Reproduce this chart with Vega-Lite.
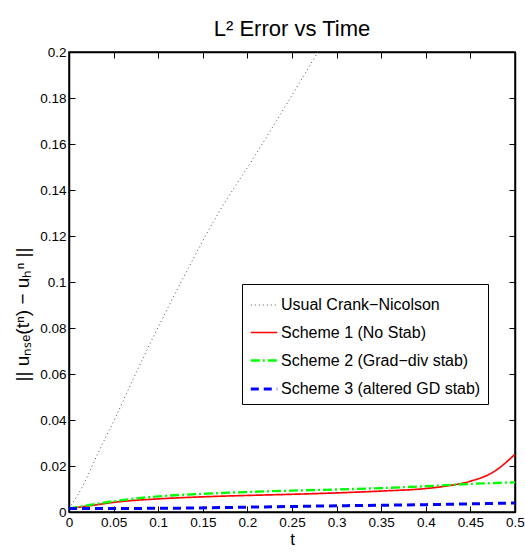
{
  "$schema": "https://vega.github.io/schema/vega-lite/v6.json",
  "autosize": {"type": "none"},
  "width": 446,
  "height": 460,
  "padding": {"left": 69, "top": 52, "right": 10, "bottom": 41},
  "background": "white",
  "title": {
    "text": "L² Error vs Time",
    "font": "Liberation Sans, Arial, sans-serif",
    "fontSize": 22,
    "fontWeight": "normal",
    "color": "black",
    "offset": 4
  },
  "config": {
    "view": {"stroke": "black", "strokeWidth": 1.5},
    "axis": {
      "labelFont": "Liberation Sans, Arial, sans-serif",
      "titleFont": "Liberation Sans, Arial, sans-serif",
      "labelFontSize": 13.5,
      "titleFontSize": 17,
      "titleFontWeight": "normal",
      "labelColor": "black",
      "titleColor": "black",
      "domainColor": "black",
      "domainWidth": 1.5,
      "tickColor": "black",
      "tickSize": -6,
      "labelPadding": 9,
      "grid": false
    }
  },
  "data": {
    "values": [
      {"series": "Usual Crank−Nicolson", "t": 0, "e": 0.0015},
      {"series": "Usual Crank−Nicolson", "t": 0.015, "e": 0.011},
      {"series": "Usual Crank−Nicolson", "t": 0.033, "e": 0.026},
      {"series": "Usual Crank−Nicolson", "t": 0.052, "e": 0.041},
      {"series": "Usual Crank−Nicolson", "t": 0.071, "e": 0.057},
      {"series": "Usual Crank−Nicolson", "t": 0.094, "e": 0.0757},
      {"series": "Usual Crank−Nicolson", "t": 0.128, "e": 0.1017},
      {"series": "Usual Crank−Nicolson", "t": 0.166, "e": 0.129},
      {"series": "Usual Crank−Nicolson", "t": 0.207, "e": 0.154},
      {"series": "Usual Crank−Nicolson", "t": 0.245, "e": 0.178},
      {"series": "Usual Crank−Nicolson", "t": 0.279, "e": 0.2},

      {"series": "Scheme 1 (No Stab)", "t": 0, "e": 0.0015},
      {"series": "Scheme 1 (No Stab)", "t": 0.025, "e": 0.0028},
      {"series": "Scheme 1 (No Stab)", "t": 0.05, "e": 0.0042},
      {"series": "Scheme 1 (No Stab)", "t": 0.1, "e": 0.0057},
      {"series": "Scheme 1 (No Stab)", "t": 0.15, "e": 0.0066},
      {"series": "Scheme 1 (No Stab)", "t": 0.2, "e": 0.0072},
      {"series": "Scheme 1 (No Stab)", "t": 0.25, "e": 0.0077},
      {"series": "Scheme 1 (No Stab)", "t": 0.3, "e": 0.0083},
      {"series": "Scheme 1 (No Stab)", "t": 0.35, "e": 0.0091},
      {"series": "Scheme 1 (No Stab)", "t": 0.4, "e": 0.0102},
      {"series": "Scheme 1 (No Stab)", "t": 0.425, "e": 0.0114},
      {"series": "Scheme 1 (No Stab)", "t": 0.45, "e": 0.0134},
      {"series": "Scheme 1 (No Stab)", "t": 0.475, "e": 0.0172},
      {"series": "Scheme 1 (No Stab)", "t": 0.5, "e": 0.0251},

      {"series": "Scheme 2 (Grad−div stab)", "t": 0, "e": 0.0015},
      {"series": "Scheme 2 (Grad−div stab)", "t": 0.025, "e": 0.0032},
      {"series": "Scheme 2 (Grad−div stab)", "t": 0.05, "e": 0.0047},
      {"series": "Scheme 2 (Grad−div stab)", "t": 0.1, "e": 0.0068},
      {"series": "Scheme 2 (Grad−div stab)", "t": 0.15, "e": 0.0079},
      {"series": "Scheme 2 (Grad−div stab)", "t": 0.2, "e": 0.0087},
      {"series": "Scheme 2 (Grad−div stab)", "t": 0.25, "e": 0.0093},
      {"series": "Scheme 2 (Grad−div stab)", "t": 0.3, "e": 0.0098},
      {"series": "Scheme 2 (Grad−div stab)", "t": 0.35, "e": 0.0104},
      {"series": "Scheme 2 (Grad−div stab)", "t": 0.4, "e": 0.0112},
      {"series": "Scheme 2 (Grad−div stab)", "t": 0.45, "e": 0.0122},
      {"series": "Scheme 2 (Grad−div stab)", "t": 0.5, "e": 0.0129},

      {"series": "Scheme 3 (altered GD stab)", "t": 0, "e": 0.0015},
      {"series": "Scheme 3 (altered GD stab)", "t": 0.1, "e": 0.0016},
      {"series": "Scheme 3 (altered GD stab)", "t": 0.2, "e": 0.0021},
      {"series": "Scheme 3 (altered GD stab)", "t": 0.3, "e": 0.0027},
      {"series": "Scheme 3 (altered GD stab)", "t": 0.4, "e": 0.0032},
      {"series": "Scheme 3 (altered GD stab)", "t": 0.5, "e": 0.0039}
    ]
  },
  "resolve": {"axis": {"x": "independent", "y": "independent"}},
  "layer": [
    {
      "mark": {"type": "line", "clip": true, "interpolate": "monotone"},
      "encoding": {
        "x": {
          "field": "t", "type": "quantitative",
          "scale": {"domain": [0, 0.5], "nice": false},
          "axis": {"title": "t", "format": ".2~f", "values": [0, 0.05, 0.1, 0.15, 0.2, 0.25, 0.3, 0.35, 0.4, 0.45, 0.5], "titlePadding": 3, "labelFlush": false, "labelOverlap": false}
        },
        "y": {
          "field": "e", "type": "quantitative",
          "scale": {"domain": [0, 0.2], "nice": false},
          "axis": {"title": "|| uₙₛₑ(tⁿ) − uₕⁿ ||", "titleFontSize": 19, "titleY": 262, "format": ".2~f", "values": [0, 0.02, 0.04, 0.06, 0.08, 0.1, 0.12, 0.14, 0.16, 0.18, 0.2], "titlePadding": 7, "labelFlush": false, "labelOverlap": false}
        },
        "color": {
          "field": "series", "type": "nominal",
          "scale": {
            "domain": ["Usual Crank−Nicolson", "Scheme 1 (No Stab)", "Scheme 2 (Grad−div stab)", "Scheme 3 (altered GD stab)"],
            "range": ["#555555", "#ff0000", "#00ff00", "#0000ff"]
          },
          "legend": {
            "title": null,
            "orient": "none",
            "legendX": 173,
            "legendY": 232,
            "symbolType": "stroke",
            "symbolSize": 700,
            "labelFont": "Liberation Sans, Arial, sans-serif",
            "labelFontSize": 16,
            "labelLimit": 0,
            "labelColor": "black",
            "strokeColor": "black",
            "fillColor": "white",
            "padding": 7,
            "rowPadding": 5,
            "labelOffset": 2
          }
        },
        "strokeDash": {
          "field": "series", "type": "nominal",
          "scale": {
            "domain": ["Usual Crank−Nicolson", "Scheme 1 (No Stab)", "Scheme 2 (Grad−div stab)", "Scheme 3 (altered GD stab)"],
            "range": [[1, 3], [1, 0], [9, 3, 2, 3], [8, 5]]
          },
          "legend": {"title": null, "orient": "none", "legendX": 173, "legendY": 232}
        },
        "strokeWidth": {
          "field": "series", "type": "nominal",
          "scale": {
            "domain": ["Usual Crank−Nicolson", "Scheme 1 (No Stab)", "Scheme 2 (Grad−div stab)", "Scheme 3 (altered GD stab)"],
            "range": [1, 3, 3, 3]
          },
          "legend": {"title": null, "orient": "none", "legendX": 173, "legendY": 232}
        }
      }
    },
    {
      "mark": {"type": "line", "strokeOpacity": 0, "clip": true},
      "encoding": {
        "x": {
          "field": "t", "type": "quantitative",
          "axis": {"orient": "top", "title": null, "labels": false, "values": [0, 0.05, 0.1, 0.15, 0.2, 0.25, 0.3, 0.35, 0.4, 0.45, 0.5]}
        },
        "y": {
          "field": "e", "type": "quantitative",
          "axis": {"orient": "right", "title": null, "labels": false, "values": [0, 0.02, 0.04, 0.06, 0.08, 0.1, 0.12, 0.14, 0.16, 0.18, 0.2]}
        },
        "detail": {"field": "series"}
      }
    }
  ]
}
